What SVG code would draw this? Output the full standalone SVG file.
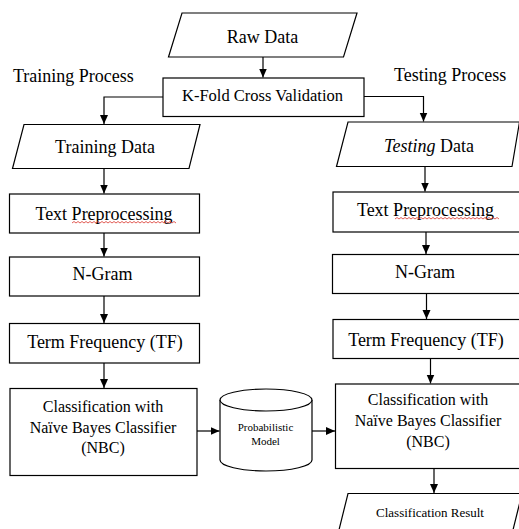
<svg xmlns="http://www.w3.org/2000/svg" width="519" height="529" viewBox="0 0 519 529">
<defs>
<marker id="ah" markerUnits="userSpaceOnUse" markerWidth="10" markerHeight="10" refX="9" refY="4" orient="auto">
<path d="M0,0 L9,4 L0,8 z" fill="#000"/>
</marker>
</defs>
<style>
.n{fill:#fff;stroke:#000;stroke-width:1.2}
.t{font-family:"Liberation Serif","Times New Roman",serif;font-size:18px;fill:#000;text-anchor:middle}
.s16{font-size:16px}
.s165{font-size:16.5px}
.sm{font-size:11px}
.s13{font-size:13px}
.lbl{text-anchor:start}
.c{fill:none;stroke:#000;stroke-width:1.2;marker-end:url(#ah)}
.w{fill:none;stroke:#d9342b;stroke-width:0.8}
</style>
<rect width="519" height="529" fill="#fff"/>

<g id="labels">
<text class="t lbl" x="13" y="82">Training Process</text>
<text class="t lbl" x="394" y="81">Testing Process</text>
</g>

<g id="connectors">
<path class="c" d="M263,57 V77.5"/>
<path class="c" d="M163,97 H104 V124"/>
<path class="c" d="M364,96.5 H423.5 V121.5"/>
<path class="c" d="M104,168.5 V193.5"/>
<path class="c" d="M104,233 V256.5"/>
<path class="c" d="M104,296 V323"/>
<path class="c" d="M104,363 V388"/>
<path class="c" d="M197,431 H219.5"/>
<path class="c" d="M312,431 H335"/>
<path class="c" d="M425,166.5 V191.5"/>
<path class="c" d="M426,232 V254"/>
<path class="c" d="M426.5,293.5 V319"/>
<path class="c" d="M430.5,358.5 V383.5"/>
<path class="c" d="M434,468.5 V493"/>
</g>

<g id="raw-data">
<polygon class="n" points="182,13 357,13 343.5,57 168.5,57"/>
<text class="t" x="262.5" y="42.5">Raw Data</text>
</g>

<g id="kfold">
<rect class="n" x="163" y="78" width="201" height="38.5"/>
<text class="t s165" x="262.5" y="101">K-Fold Cross Validation</text>
</g>

<g id="training-data">
<polygon class="n" points="24,124.5 200,124.5 189,168.5 12.5,168.5"/>
<text class="t" x="105" y="153">Training Data</text>
</g>

<g id="text-prep-train">
<rect class="n" x="9.5" y="194" width="190" height="39"/>
<text class="t" x="104" y="219.5">Text Preprocessing</text>
<path class="w" d="M72,223l2-1.5 2 1.5 2-1.5 2 1.5 2-1.5 2 1.5 2-1.5 2 1.5 2-1.5 2 1.5 2-1.5 2 1.5 2-1.5 2 1.5 2-1.5 2 1.5 2-1.5 2 1.5 2-1.5 2 1.5 2-1.5 2 1.5 2-1.5 2 1.5 2-1.5 2 1.5 2-1.5 2 1.5 2-1.5 2 1.5 2-1.5 2 1.5 2-1.5 2 1.5 2-1.5 2 1.5 2-1.5 2 1.5 2-1.5 2 1.5 2-1.5 2 1.5 2-1.5 2 1.5 2-1.5 2 1.5 2-1.5 2 1.5 2-1.5 2 1.5 2-1.5 2 1.5"/>
</g>

<g id="ngram-train">
<rect class="n" x="9.5" y="257" width="190" height="39"/>
<text class="t" x="102.5" y="280">N-Gram</text>
</g>

<g id="tf-train">
<rect class="n" x="9.5" y="323.5" width="190" height="39.5"/>
<text class="t" x="105" y="348">Term Frequency (TF)</text>
</g>

<g id="nbc-train">
<rect class="n" x="10" y="388.5" width="187" height="87"/>
<text class="t s16" x="103" y="412">Classification with</text>
<text class="t s16" x="103" y="432.5">Naïve Bayes Classifier</text>
<text class="t s16" x="103" y="453">(NBC)</text>
</g>

<g id="prob-model">
<path class="n" d="M220,400 A46,11 0 0 1 312,400 V460 A46,11 0 0 1 220,460 Z"/>
<path class="n" fill="none" d="M220,400 A46,11 0 0 0 312,400"/>
<text class="t sm" x="265.5" y="430.5">Probabilistic</text>
<text class="t sm" x="265.5" y="445">Model</text>
</g>

<g id="testing-data">
<polygon class="n" points="348,122 519.5,122 512,166.5 336.5,166.5"/>
<text class="t" x="429" y="152"><tspan font-style="italic">Testing</tspan> Data</text>
</g>

<g id="text-prep-test">
<rect class="n" x="333" y="192" width="200" height="40"/>
<text class="t" x="425.5" y="216">Text Preprocessing</text>
<path class="w" d="M395,219l2-1.5 2 1.5 2-1.5 2 1.5 2-1.5 2 1.5 2-1.5 2 1.5 2-1.5 2 1.5 2-1.5 2 1.5 2-1.5 2 1.5 2-1.5 2 1.5 2-1.5 2 1.5 2-1.5 2 1.5 2-1.5 2 1.5 2-1.5 2 1.5 2-1.5 2 1.5 2-1.5 2 1.5 2-1.5 2 1.5 2-1.5 2 1.5 2-1.5 2 1.5 2-1.5 2 1.5 2-1.5 2 1.5 2-1.5 2 1.5 2-1.5 2 1.5 2-1.5 2 1.5 2-1.5 2 1.5 2-1.5 2 1.5 2-1.5 2 1.5 2-1.5 2 1.5"/>
</g>

<g id="ngram-test">
<rect class="n" x="332.5" y="254.5" width="200" height="39"/>
<text class="t" x="425" y="277.5">N-Gram</text>
</g>

<g id="tf-test">
<rect class="n" x="333" y="319.5" width="200" height="39"/>
<text class="t" x="426" y="345.5">Term Frequency (TF)</text>
</g>

<g id="nbc-test">
<rect class="n" x="335.5" y="384" width="200" height="84.5"/>
<text class="t s16" x="428" y="405">Classification with</text>
<text class="t s16" x="428" y="425.5">Naïve Bayes Classifier</text>
<text class="t s16" x="428" y="446.5">(NBC)</text>
</g>

<g id="classification-result">
<polygon class="n" points="348,493.5 522,493.5 510.5,540 336.5,540"/>
<text class="t s13" x="430" y="517.3">Classification Result</text>
</g>
</svg>
